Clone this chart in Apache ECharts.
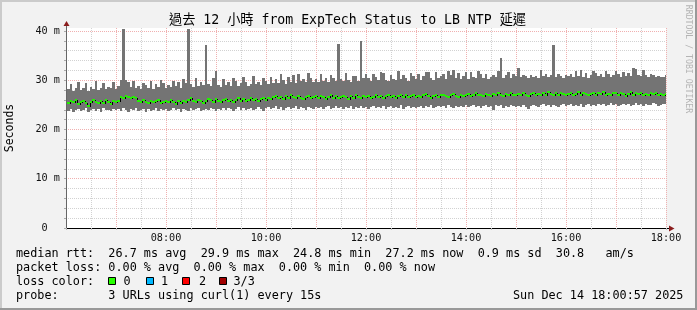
<!DOCTYPE html>
<html><head><meta charset="utf-8">
<script src="https://cdn.jsdelivr.net/npm/echarts@6/dist/echarts.min.js"></script>
<style>html,body{margin:0;padding:0;background:#f2f2f2}#c{width:697px;height:310px}</style>
</head><body><div id="c"></div><script>
// ---- data (ms) ----
const bucketMinutes = 3; // 240 buckets from 06:00 to 18:00
const medianMs = [
 25.3,25.7,25.5,25.9,25.2,25.6,25.8,25.4,24.8,25.6,25.9,25.5,25.3,25.7,25.4,26.0,25.6,25.2,25.8,25.5,
 25.7,26.5,26.4,26.7,26.5,26.3,26.6,26.4,25.8,25.5,25.9,25.6,25.3,25.8,25.5,25.7,25.9,25.4,25.6,25.8,
 25.5,25.9,25.6,25.2,25.7,25.4,25.8,25.6,25.9,26.3,25.7,25.5,26.0,25.8,25.4,25.7,26.2,25.9,25.6,26.1,
 25.8,25.5,25.9,26.2,25.7,26.0,25.6,25.9,26.3,25.8,26.1,25.7,26.0,26.4,25.9,26.2,25.8,26.1,26.3,26.0,
 26.4,26.1,26.5,26.8,26.3,26.6,26.2,26.7,26.4,26.9,26.5,26.3,26.7,26.4,26.1,26.6,26.8,26.3,26.5,26.7,
 26.4,26.8,26.5,26.2,26.6,26.9,26.4,26.7,26.3,26.6,26.8,26.5,26.2,26.7,26.4,26.9,26.6,26.3,26.7,26.5,
 26.8,26.4,26.6,27.0,26.5,26.8,26.3,26.7,26.9,26.5,26.7,26.4,26.8,27.1,26.6,26.9,26.5,26.7,27.0,26.6,
 26.8,26.5,26.9,27.2,26.7,26.4,26.8,27.0,26.6,26.9,27.1,26.7,26.5,26.9,27.2,26.8,26.6,27.0,26.7,26.9,
 27.2,26.8,27.0,27.4,26.9,27.1,26.7,27.3,27.0,26.8,27.2,26.9,27.4,27.1,26.8,27.3,27.0,27.5,27.1,26.9,
 27.3,27.0,27.4,27.1,26.8,27.2,27.5,27.0,27.3,26.9,27.4,27.1,27.6,27.2,27.0,27.4,27.1,27.5,27.3,26.9,
 27.2,27.5,27.0,27.3,27.6,27.1,27.4,27.2,26.9,27.3,27.5,27.0,27.4,27.2,27.6,27.1,27.3,27.0,27.4,27.5,
 27.1,27.4,27.2,26.8,27.3,27.6,27.0,27.4,27.2,27.5,26.9,27.3,27.1,27.4,27.2,27.5,27.0,27.3,27.1,27.2
];
const smokeLowMs = [
 23.8,24.1,23.6,24.0,24.2,23.7,23.9,24.3,23.5,24.0,24.2,23.8,24.1,23.6,24.3,23.9,24.0,23.7,24.2,23.9,
 24.1,23.8,24.4,24.0,23.6,24.2,23.9,24.3,23.7,24.0,24.1,23.5,24.2,23.8,24.0,24.3,23.7,24.1,23.9,24.2,
 23.8,24.0,24.3,23.9,24.1,23.6,24.2,24.0,23.8,24.4,23.9,24.1,24.3,23.7,24.0,24.2,23.9,24.4,24.1,23.8,
 24.2,24.0,24.4,23.9,24.3,24.1,23.7,24.2,24.5,24.0,24.3,23.9,24.1,24.4,24.0,24.2,24.6,24.1,23.8,24.3,
 24.5,24.1,24.4,24.7,24.2,24.5,24.0,24.3,24.6,24.2,24.4,24.7,24.1,24.5,24.3,24.0,24.6,24.4,24.2,24.5,
 24.3,24.6,24.1,24.5,24.8,24.2,24.4,24.7,24.3,24.5,24.1,24.6,24.4,24.8,24.2,24.5,24.3,24.7,24.4,24.6,
 24.2,24.5,24.7,24.3,24.6,24.4,24.8,24.1,24.5,24.7,24.3,24.6,24.4,24.9,24.2,24.5,24.7,24.4,24.6,24.3,
 24.6,24.8,24.4,24.7,24.5,24.9,24.3,24.6,24.8,24.5,24.7,24.4,24.9,24.6,24.3,24.8,24.5,24.7,24.6,24.9,
 24.5,24.7,24.9,24.6,24.8,24.4,24.7,25.0,24.6,24.8,23.9,24.9,24.7,25.0,24.4,24.8,24.6,24.9,24.7,24.5,
 24.8,24.6,24.9,24.6,24.2,24.7,25.0,24.8,24.6,24.9,25.1,24.7,24.9,24.6,25.0,24.8,24.5,24.9,25.1,24.7,
 24.9,25.1,24.7,25.0,24.8,25.2,24.6,24.9,25.1,24.8,25.0,24.7,25.2,24.9,25.1,24.8,25.0,25.3,24.9,25.1,
 24.8,25.0,25.2,24.9,25.1,24.7,25.0,25.3,24.9,25.1,24.8,25.2,25.0,24.9,25.3,25.1,24.8,25.0,25.2,25.1
];
const smokeHighMs = [
 28.2,29.3,27.9,28.5,29.6,28.1,28.4,29.4,27.8,28.6,28.3,29.8,28.0,28.5,29.5,28.2,28.7,28.4,29.7,28.3,
 28.8,30.1,40.4,30.0,29.6,28.7,29.9,28.5,28.9,28.2,29.5,29.1,28.4,29.8,28.3,29.2,28.6,30.1,29.4,28.5,
 29.0,28.6,29.9,28.8,29.6,28.4,30.2,29.5,40.4,29.2,28.7,30.4,28.9,29.7,29.0,37.2,29.3,28.8,30.5,31.8,
 29.1,28.7,30.3,29.0,29.6,28.8,30.5,29.8,28.9,29.5,30.6,29.7,28.8,29.3,30.9,29.2,29.6,29.0,30.4,29.8,
 29.3,30.7,29.5,30.2,29.4,31.3,30.0,29.3,30.6,29.7,31.0,29.5,31.2,29.8,30.3,29.6,31.5,30.4,29.7,30.2,
 29.6,31.2,29.9,30.5,29.7,31.0,30.4,29.8,37.4,30.2,29.9,31.4,30.0,29.7,30.9,30.8,29.9,37.9,30.4,31.3,
 30.5,29.8,31.2,30.7,30.0,31.6,31.4,30.1,29.9,31.1,30.3,30.0,31.8,30.2,31.1,30.4,29.9,31.5,30.9,30.2,
 31.3,30.1,30.8,31.6,31.6,30.5,30.0,31.7,30.4,30.9,31.2,30.3,31.9,31.0,32.0,30.5,31.4,30.2,30.9,31.6,
 30.3,31.6,30.7,30.4,31.9,31.3,30.5,31.2,30.2,30.7,31.1,30.6,31.8,34.5,30.5,31.0,31.7,30.4,31.2,30.8,
 32.5,30.6,31.0,30.8,30.4,31.1,30.7,30.9,30.5,32.0,30.8,31.2,30.6,31.0,37.2,30.7,31.3,30.9,30.5,31.1,
 30.8,31.2,30.6,31.8,30.9,32.1,30.7,31.4,30.5,31.1,31.9,31.5,30.9,31.2,30.6,31.8,31.3,30.7,31.1,31.9,
 31.2,30.7,31.6,30.8,31.4,30.9,32.4,32.3,31.1,30.8,32.0,31.0,30.7,31.3,31.1,30.7,30.8,30.6,30.7,31.0
];
const xTickValues = [120, 240, 360, 480, 600, 720];
const xTickLabels = ['08:00', '10:00', '12:00', '14:00', '16:00', '18:00'];
const yTickValues = [0, 10, 20, 30, 40];
const yTickLabels = ['0\u00a0\u00a0', '10 m', '20 m', '30 m', '40 m'];
const legendRows = [
  'median rtt:  26.7 ms avg  29.9 ms max  24.8 ms min  27.2 ms now  0.9 ms sd  30.8   am/s',
  'packet loss: 0.00 % avg  0.00 % max  0.00 % min  0.00 % now'
];
const lossLabels = ['0', '1', '2', '3/3'];
const lossColors = ['#26ff00', '#00b8ff', '#ff0000', '#a00000'];

// ---- build ----
const smokeData = smokeLowMs.map((lo, i) => [i * bucketMinutes, lo, smokeHighMs[i]]);
const medData = medianMs.map((m, i) => [i * bucketMinutes, m, i > 0 ? medianMs[i - 1] : m]);

const mono = '"DejaVu Sans Mono", "Noto Sans CJK TC", monospace';
const chart = echarts.init(document.getElementById('c'), null, {renderer: 'canvas'});

const gfx = [];
function txt(x, y, s, size, extra) {
  gfx.push(Object.assign({type: 'text', x: x, y: y, silent: true,
    style: {text: s, fill: '#000', font: size + 'px ' + mono, verticalAlign: 'middle', align: 'left'}}, extra || {}));
}
txt(16, 254, legendRows[0], 11.8);
txt(16, 268, legendRows[1], 11.8);
txt(16, 282, 'loss color:', 11.8);
const boxX = [108.5, 146.5, 182.5, 219.5];
const lblX = [123.5, 161, 199, 233.5];
lossLabels.forEach((l, i) => {
  gfx.push({type: 'rect', silent: true, shape: {x: boxX[i], y: 277.5, width: 7, height: 7},
    style: {fill: lossColors[i], stroke: '#000', lineWidth: 1}});
  txt(lblX[i], 282, l, 11.8);
});
txt(16, 296, 'probe:       3 URLs using curl(1) every 15s', 11.8);
txt(513, 296, 'Sun Dec 14 18:00:57 2025', 11.8);
gfx.push({type: 'text', x: 347.5, y: 21, silent: true,
  style: {text: '過去 12 小時 from ExpTech Status to LB NTP 延遲', fill: '#000',
    font: '13.2px ' + mono, align: 'center', verticalAlign: 'middle'}});
gfx.push({type: 'text', x: 10, y: 128, rotation: Math.PI / 2, silent: true,
  style: {text: 'Seconds', fill: '#000', font: '11.5px ' + mono, align: 'center', verticalAlign: 'middle'}});
gfx.push({type: 'text', x: 688, y: 59, rotation: -Math.PI / 2, silent: true,
  style: {text: 'RRDTOOL / TOBI OETIKER', fill: '#b4b4b4', font: '8.2px ' + mono, align: 'center', verticalAlign: 'middle'}});
gfx.push({type: 'rect', silent: true, shape: {x: 0, y: 0, width: 697, height: 2}, style: {fill: '#cbcbcb'}});
gfx.push({type: 'rect', silent: true, shape: {x: 0, y: 0, width: 2, height: 310}, style: {fill: '#cbcbcb'}});
gfx.push({type: 'rect', silent: true, shape: {x: 0, y: 308, width: 697, height: 2}, style: {fill: '#999'}});
gfx.push({type: 'rect', silent: true, shape: {x: 695, y: 0, width: 2, height: 310}, style: {fill: '#999'}});
gfx.push({type: 'line', silent: true, shape: {x1: 66.5, y1: 28, x2: 66.5, y2: 25}, style: {stroke: '#666', lineWidth: 1}});
gfx.push({type: 'polygon', silent: true, shape: {points: [[63.5, 26], [69.5, 26], [66.5, 21]]}, style: {fill: '#8b1d1d'}});
gfx.push({type: 'line', silent: true, shape: {x1: 666, y1: 228.5, x2: 669.5, y2: 228.5}, style: {stroke: '#000', lineWidth: 1}});
gfx.push({type: 'polygon', silent: true, shape: {points: [[669, 225.5], [669, 231.5], [674.5, 228.5]]}, style: {fill: '#8b1d1d'}});

const option = {
  animation: false,
  backgroundColor: '#f2f2f2',
  grid: {left: 66, top: 28, width: 600, height: 200, show: true, backgroundColor: '#ffffff', borderWidth: 0},
  xAxis: {
    type: 'value', min: 0, max: 720, interval: 30,
    axisLine: {show: true, onZero: false, lineStyle: {color: '#000', width: 1}},
    axisTick: {show: true, length: 2, lineStyle: {color: '#bbb'}},
    axisLabel: {show: true, margin: 5, color: '#111', fontFamily: mono, fontSize: 10.2,
      formatter: v => { const k = xTickValues.indexOf(v); return k >= 0 ? xTickLabels[k] : ''; }},
    splitLine: {show: true, showMaxLine: true, lineStyle: {color: ['#f0b0b0', '#d2d2d2'], type: [1, 1], width: 1}}
  },
  yAxis: {
    type: 'value', min: 0, max: 40.6, interval: 2,
    axisLine: {show: true, lineStyle: {color: '#666', width: 1}},
    axisTick: {show: true, length: 2, lineStyle: {color: '#aaa'}},
    axisLabel: {show: true, margin: 6, color: '#111', fontFamily: mono, fontSize: 10.2, showMaxLabel: false,
      formatter: v => { const k = yTickValues.indexOf(v); return k >= 0 ? yTickLabels[k] : ''; }},
    splitLine: {show: true, showMaxLine: false,
      lineStyle: {color: ['#f0b0b0', '#d2d2d2', '#d2d2d2', '#d2d2d2', '#d2d2d2'], type: [1, 1], width: 1}}
  },
  series: [
    {
      type: 'custom', name: 'smoke', data: smokeData, clip: true, silent: true,
      renderItem: (params, api) => {
        const t = api.value(0), lo = api.value(1), hi = api.value(2);
        const p1 = api.coord([t, hi]);
        const p2 = api.coord([t + bucketMinutes, lo]);
        const x0 = Math.round(p1[0]) + 1, x1 = Math.round(p2[0]) + 1;
        const y0 = Math.round(p1[1]), y1 = Math.round(p2[1]);
        return {type: 'rect', shape: {x: x0, y: y0, width: x1 - x0, height: y1 - y0},
          style: {fill: '#747474'}};
      }
    },
    {
      type: 'custom', name: 'median', data: medData, clip: true, silent: true,
      renderItem: (params, api) => {
        const t = api.value(0), m = api.value(1), pm = api.value(2);
        const a = api.coord([t, m]);
        const b = api.coord([t + bucketMinutes, m]);
        const c = api.coord([t, pm]);
        const x0 = Math.round(a[0]) + 1, x1 = Math.round(b[0]) + 1;
        const ym = Math.round(a[1]), yp = Math.round(c[1]);
        return {type: 'group', children: [
          {type: 'rect', shape: {x: x0, y: Math.min(ym, yp), width: 1, height: Math.abs(ym - yp) + 1}, style: {fill: '#000'}},
          {type: 'rect', shape: {x: x0, y: ym - 1, width: x1 - x0, height: 2}, style: {fill: '#22f000'}}
        ]};
      }
    }
  ],
  graphic: gfx
};
chart.setOption(option);
</script></body></html>
